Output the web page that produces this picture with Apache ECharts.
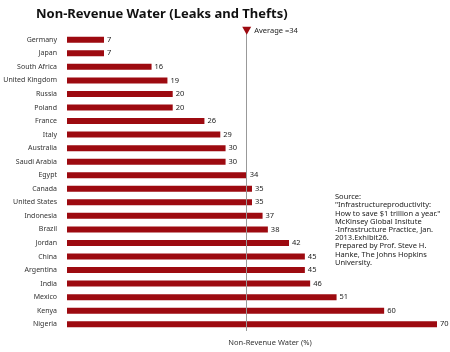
<!doctype html>
<html lang="en">
<head>
  <meta charset="UTF-8">
  <title>Non-Revenue Water</title>
  <style>
    html, body { margin: 0; padding: 0; background: #fff; }
    #chart { width: 450px; height: 352px; }
  </style>
  <script src="https://cdn.jsdelivr.net/npm/echarts@6/dist/echarts.min.js"></script>
</head>
<body>
  <div id="chart"></div>
  <script>
    var countries = ['Germany', 'Japan', 'South Africa', 'United Kingdom', 'Russia', 'Poland', 'France', 'Italy',
      'Australia', 'Saudi Arabia', 'Egypt', 'Canada', 'United States', 'Indonesia', 'Brazil', 'Jordan',
      'China', 'Argentina', 'India', 'Mexico', 'Kenya', 'Nigeria'];
    var lossPct = [7, 7, 16, 19, 20, 20, 26, 29, 30, 30, 34, 35, 35, 37, 38, 42, 45, 45, 46, 51, 60, 70];
    var average = 34;
    var sourceLines = [
      'Source:',
      '"Infrastructureproductivity:',
      'How to save $1 trillion a year."',
      'McKinsey Global Insitute',
      '-Infrastructure Practice, Jan.',
      '2013.Exhibit26.',
      'Prepared by Prof. Steve H.',
      'Hanke, The Johns Hopkins',
      'University.'
    ];

    var red = '#9d0a10';
    var myChart = echarts.init(document.getElementById('chart'));

    var option = {
      backgroundColor: '#fff',
      textStyle: { fontFamily: 'Noto Sans' },
      title: {
        text: 'Non-Revenue Water (Leaks and Thefts)',
        left: 31,
        top: 3,
        textStyle: { fontSize: 13, fontWeight: 'bold', color: '#111', fontFamily: 'Noto Sans' }
      },
      grid: { left: 67, right: 13, top: 33, bottom: 17 },
      xAxis: {
        type: 'value',
        min: 0,
        max: 70,
        axisLabel: { show: false },
        axisTick: { show: false },
        axisLine: { show: false },
        splitLine: { show: false },
        name: 'Non-Revenue Water (%)',
        nameLocation: 'middle',
        nameGap: 8,
        nameTextStyle: { fontSize: 7.5, color: '#333', padding: [0, 0, 0, 36] }
      },
      yAxis: {
        type: 'category',
        inverse: true,
        data: countries,
        axisLine: { show: false },
        axisTick: { show: false },
        axisLabel: { fontSize: 7, color: '#333', margin: 10 }
      },
      graphic: [{
        type: 'text',
        left: 335,
        top: 193,
        style: {
          text: sourceLines.join('\n'),
          fontSize: 7.5,
          lineHeight: 8.2,
          fill: '#222',
          fontFamily: 'Noto Sans'
        }
      }],
      series: [{
        type: 'bar',
        data: lossPct,
        barWidth: 6,
        itemStyle: { color: red },
        label: { show: true, position: 'right', fontSize: 7.5, color: '#222', distance: 3 },
        markLine: {
          silent: true,
          symbol: 'none',
          label: { show: false },
          lineStyle: { color: '#999', width: 1, type: 'solid' },
          data: [{ xAxis: average }]
        },
        markPoint: {
          silent: true,
          symbol: 'triangle',
          symbolSize: [9, 8],
          symbolRotate: 180,
          symbolOffset: [0, -9],
          itemStyle: { color: red },
          label: {
            show: true,
            position: 'right',
            distance: 3,
            formatter: 'Average =' + average,
            fontSize: 7.5,
            color: '#222'
          },
          data: [{ coord: [average, countries[0]] }]
        }
      }]
    };
    myChart.setOption(option);
  </script>
</body>
</html>
